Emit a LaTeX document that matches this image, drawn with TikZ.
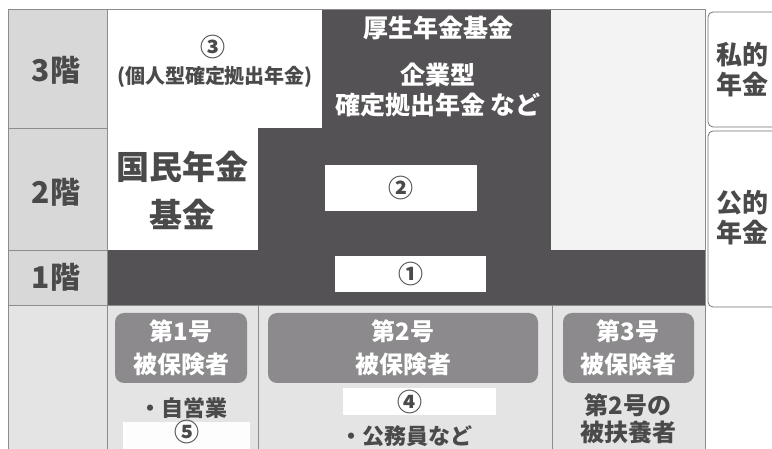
\documentclass[tikz,border=0pt]{standalone}
\usepackage{fontspec}
\setmainfont{Noto Sans CJK JP}
\usepackage{tikz}
\definecolor{darkarea}{HTML}{555255}
\definecolor{labelcol}{HTML}{D8D8D8}
\definecolor{lowarea}{HTML}{E4E4E4}
\definecolor{palearea}{HTML}{F3F3F3}
\definecolor{kindbox}{HTML}{8C8A8C}
\definecolor{inktext}{HTML}{4A4A4A}

\begin{document}
\begin{tikzpicture}[
  x=1pt, y=-1pt,
  floor/.style={font=\fontsize{30}{32}\selectfont\bfseries, text=inktext},
  darktext/.style={font=\fontsize{25}{30}\selectfont\bfseries, text=white, align=center},
  numtext/.style={font=\fontsize{25}{28}\selectfont\bfseries, text=inktext},
  sidebox/.style={draw=black!55, fill=white, rounded corners=5pt, line width=0.8pt},
  sidetext/.style={font=\fontsize{26}{30}\selectfont\bfseries, text=inktext, align=left},
  kind/.style={fill=kindbox, rounded corners=9pt},
  kindtext/.style={font=\fontsize{24}{33}\selectfont\bfseries, text=white, align=center},
  lowtext/.style={font=\fontsize{22}{27}\selectfont\bfseries, text=inktext, align=center},
  gridline/.style={draw=black!45, line width=0.7pt}
  ]
  \useasboundingbox (0,0) rectangle (772,449);
  \fill[white] (0,0) rectangle (772,449);

  \fill[lowarea] (8,9) rectangle (705,449);
  \fill[labelcol] (8,9) rectangle (107,305);
  \fill[palearea] (551,9) rectangle (705,250);
  \fill[darkarea] (107,9) rectangle (551,305);
  \fill[darkarea] (551,250) rectangle (705,305);
  \fill[white] (107,9) rectangle (322,128);
  \fill[white] (107,128) rectangle (258,250);
  \fill[white] (325,165) rectangle (477,211);
  \fill[white] (335,256) rectangle (486,292);
  \fill[white] (343,388) rectangle (496,415);
  \fill[white!92!lowarea] (123,422) rectangle (250,449);

  \draw[gridline] (8,449) -- (8,9) -- (705,9);
  \draw[gridline] (8,128) -- (107,128);
  \draw[gridline] (8,250) -- (107,250);
  \draw[gridline] (8,305) -- (705,305);
  \draw[gridline] (107,9) -- (107,449);
  \draw[gridline] (258,305) -- (258,449);
  \draw[gridline] (552,305) -- (552,449);
  \draw[gridline] (705,9) -- (705,449);

  \node[floor] (f3) at (56,70) {3階};
  \node[floor] (f2) at (56,192) {2階};
  \node[floor] (f1) at (56,277) {1階};

  \node[numtext] (n3) at (213,47) {③};
  \node[font=\fontsize{20}{22}\selectfont\bfseries, text=inktext] (ideco) at (215,77) {(個人型確定拠出年金)};

  \node[darktext] (kikin) at (438,28) {厚生年金基金};
  \node[darktext] (kigyo) at (438,90) {企業型\\確定拠出年金 など};

  \node[font=\fontsize{33}{48}\selectfont\bfseries, text=inktext, align=center] (kokumin) at (182,190) {国民年金\\基金};

  \node[numtext] (n2) at (401,188) {②};
  \node[numtext] (n1) at (411,274) {①};

  \draw[sidebox] (708,12) rectangle (800,127);
  \draw[sidebox] (708,131) rectangle (800,307);
  \node[sidetext] (shiteki) at (742,70) {私的\\年金};
  \node[sidetext] (koteki) at (742,218) {公的\\年金};

  \fill[kind] (115,313) rectangle (247,383);
  \fill[kind] (268,313) rectangle (538,383);
  \fill[kind] (563,313) rectangle (694,383);
  \node[kindtext] (k1) at (181,348) {第1号\\被保険者};
  \node[kindtext] (k2) at (403,348) {第2号\\被保険者};
  \node[kindtext] (k3) at (628,348) {第3号\\被保険者};

  \node[lowtext] (jiei) at (183,408) {・自営業};
  \node[numtext] (n5) at (187,432) {⑤};
  \node[numtext] (n4) at (410,402) {④};
  \node[lowtext] (komuin) at (406,436) {・公務員など};
  \node[lowtext, font=\fontsize{24}{27}\selectfont\bfseries] (fuyo) at (628,419) {第2号の\\被扶養者};
\end{tikzpicture}
\end{document}
